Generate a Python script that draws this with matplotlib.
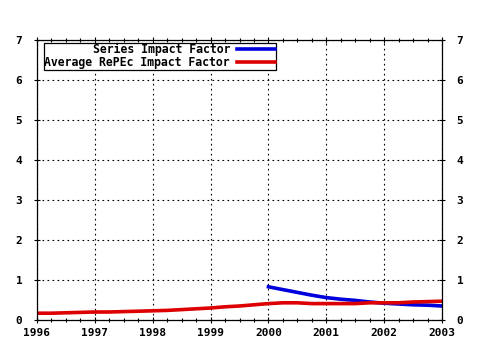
import matplotlib
matplotlib.use("Agg")
import matplotlib.pyplot as plt
from matplotlib.ticker import MultipleLocator
from matplotlib.font_manager import FontProperties

years_red = [1996 + 0.25 * i for i in range(29)]
avg_repec = [0.17, 0.17, 0.18, 0.19,
             0.20, 0.20, 0.21, 0.22,
             0.23, 0.24, 0.26, 0.28,
             0.30, 0.33, 0.35, 0.38,
             0.41, 0.43, 0.43, 0.41,
             0.41, 0.41, 0.41, 0.43,
             0.43, 0.43, 0.45, 0.46,
             0.47]
years_blue = [2000 + 0.25 * i for i in range(13)]
series_if = [0.83, 0.76, 0.69, 0.62,
             0.56, 0.52, 0.49, 0.45,
             0.42, 0.40, 0.38, 0.37,
             0.35]
x_ticks = [1996, 1997, 1998, 1999, 2000, 2001, 2002, 2003]
y_ticks = [0, 1, 2, 3, 4, 5, 6, 7]

fp = FontProperties(family="DejaVu Sans Mono", weight="bold", size=8)

fig = plt.figure(figsize=(4.8, 3.5), dpi=100)
ax = fig.add_axes([37/480, 30/350, 405/480, 280/350])
ax.plot(years_blue, series_if, color="#0000dd", lw=2.6, label="Series Impact Factor")
ax.plot(years_red, avg_repec, color="#dd0000", lw=2.6, label="Average RePEc Impact Factor")
ax.set_xlim(1996, 2003)
ax.set_ylim(0, 7)
ax.set_xticks(x_ticks)
ax.set_yticks(y_ticks)
ax.xaxis.set_minor_locator(MultipleLocator(0.25))
ax.grid(True, which="major", color="black", linestyle=(0, (1.5, 3)), lw=0.8)
ax.tick_params(which="both", direction="inout", length=5, width=0.8,
               right=True, labelright=True, top=True)
ax.tick_params(which="minor", length=3)
ax.tick_params(axis="y", pad=8)
for lab in ax.get_xticklabels() + ax.get_yticklabels():
    lab.set_fontproperties(fp)
for t in ax.yaxis.get_major_ticks():
    t.label2.set_fontproperties(fp)
for s in ax.spines.values():
    s.set_linewidth(0.9)
leg = ax.legend(loc="upper left", bbox_to_anchor=(0.017, 0.99), markerfirst=False,
                prop=FontProperties(family="DejaVu Sans Mono", weight="bold", size=8.3),
                fancybox=False, framealpha=1, edgecolor="black", handlelength=3.3,
                borderpad=0.05, labelspacing=0.0, handletextpad=0.6, borderaxespad=0)
leg.get_frame().set_linewidth(0.9)
for t in leg.get_texts():
    t.set_ha("right")
leg._legend_box.align = "right"
fig.savefig("out.png", dpi=100)
